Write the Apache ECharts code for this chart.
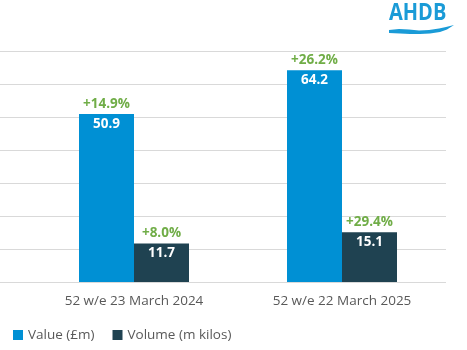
<!DOCTYPE html>
<html><head><meta charset="utf-8">
<script src="https://cdn.jsdelivr.net/npm/echarts@6/dist/echarts.min.js"></script>
<style>html,body{margin:0;padding:0;background:#fff}#c{width:467px;height:350px}</style>
</head><body><div id="c"></div>
<script>
const categories = ['52 w/e 23 March 2024', '52 w/e 22 March 2025'];
const valueSeries = [50.9, 64.2];
const volumeSeries = [11.7, 15.1];
const valueChange = ['+14.9%', '+26.2%'];
const volumeChange = ['+8.0%', '+29.4%'];
const seriesNames = ['Value (£m)', 'Volume (m kilos)'];

const chart = echarts.init(document.getElementById('c'));
const FONT = '"Open Sans", "Noto Sans", sans-serif';
function lbl(changes) {
  return {
    show: true, position: 'insideTop', distance: 0, offset: [0, -20],
    formatter: p => '{p|' + changes[p.dataIndex] + '}\n{v|' + p.value + '}',
    rich: {
      p: { color: '#70AD47', fontWeight: 'bold', fontSize: 13.5, fontFamily: FONT, lineHeight: 20 },
      v: { color: '#ffffff', fontWeight: 'bold', fontSize: 13.5, fontFamily: FONT, lineHeight: 20 }
    }
  };
}
chart.setOption({
  animation: false,
  textStyle: { fontFamily: FONT },
  grid: [
    { left: 0, right: 21, top: 51, bottom: 68 },
    { left: 30, right: 21, top: 51, bottom: 68 }
  ],
  xAxis: [
    { gridIndex: 0, type: 'value', show: false, min: 0, max: 1 },
    { gridIndex: 1, type: 'category', data: categories,
      axisLine: { show: false }, axisTick: { show: false },
      axisLabel: { color: '#595959', fontSize: 13.5, margin: 12, fontFamily: FONT } }
  ],
  yAxis: [
    { gridIndex: 0, type: 'value', min: 0, max: 70, interval: 10,
      axisLabel: { show: false }, axisLine: { show: false }, axisTick: { show: false },
      splitLine: { lineStyle: { color: '#D9D9D9', width: 1 } } },
    { gridIndex: 1, type: 'value', min: 0, max: 70, interval: 10, show: false,
      splitLine: { show: false } }
  ],
  legend: {
    left: 8, bottom: 3, itemWidth: 10, itemHeight: 10, itemGap: 18, icon: 'rect',
    textStyle: { color: '#595959', fontSize: 13.5, fontFamily: FONT },
    data: seriesNames
  },
  series: [
    { name: seriesNames[0], type: 'bar', xAxisIndex: 1, yAxisIndex: 1, data: valueSeries,
      barWidth: 55, barGap: '0%', itemStyle: { color: '#0090D4' }, label: lbl(valueChange) },
    { name: seriesNames[1], type: 'bar', xAxisIndex: 1, yAxisIndex: 1, data: volumeSeries,
      barWidth: 55, barGap: '0%', itemStyle: { color: '#1F4251' }, label: lbl(volumeChange) }
  ],
  graphic: [
    { type: 'text', x: 389, y: 2, scaleY: 1.15,
      style: { text: 'AHDB', fill: '#1A9BD7', font: 'bold 20px "Open Sans", "Noto Sans", sans-serif' } },
    { type: 'polygon',
      shape: { points: [[389,30],[399,29],[409,29.5],[419,30.5],[429,30],[439,28.5],[446,27],[454,25],
                        [447,29.5],[440,32],[430,33.5],[420,34],[410,34],[400,33.5],[389,33]] },
      style: { fill: '#1A9BD7' } }
  ]
});
</script></body></html>
